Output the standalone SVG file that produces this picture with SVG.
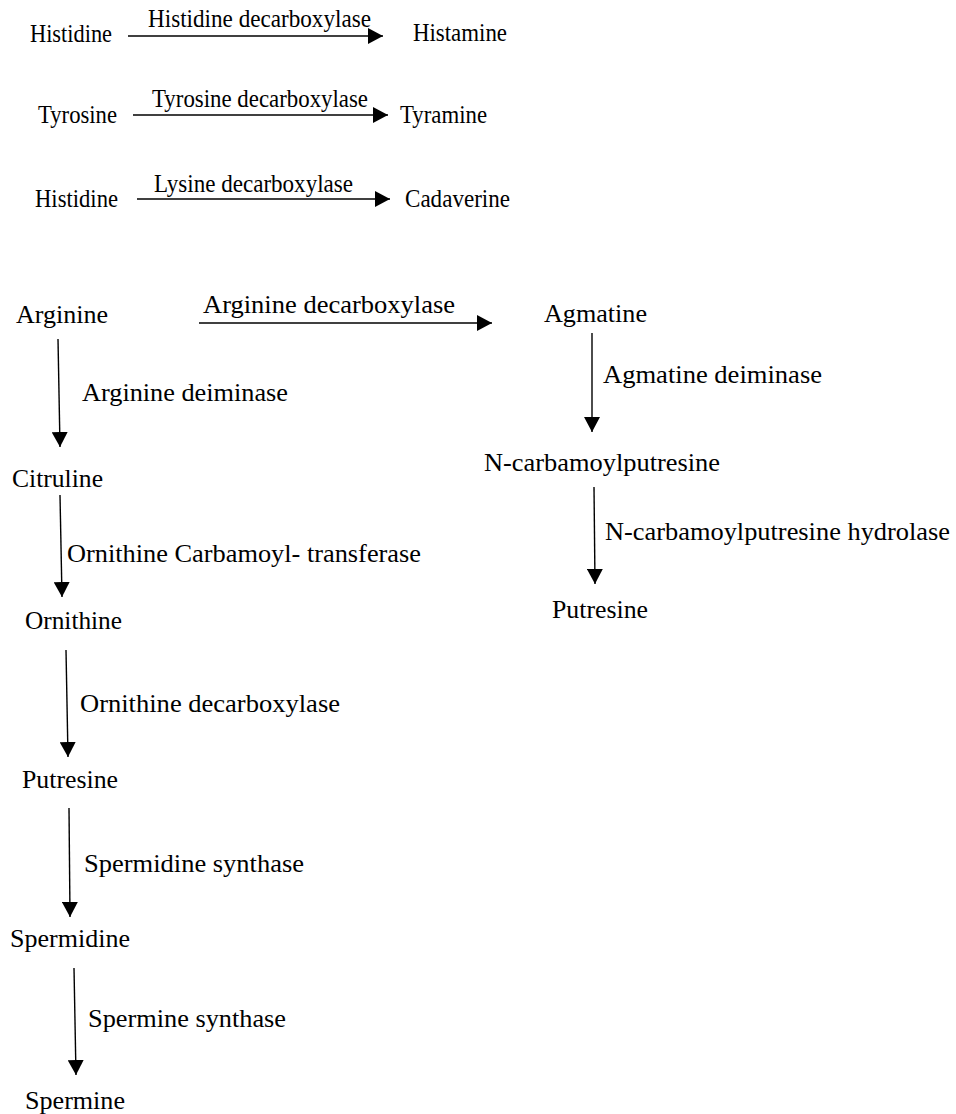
<svg xmlns="http://www.w3.org/2000/svg" width="956" height="1114" viewBox="0 0 956 1114" font-family="'Liberation Serif', 'Times New Roman', Times, 'DejaVu Serif', serif">
<defs>
<style>
text{font-family:'Liberation Serif','Times New Roman',Times,'DejaVu Serif',serif;fill:#000}
.t{font-size:25px}
.b{font-size:26px}
.c line{stroke:#000;stroke-width:1.4;marker-end:url(#ah)}
</style>
<marker id="ah" markerUnits="userSpaceOnUse" markerWidth="15" markerHeight="16" refX="15" refY="8" orient="auto">
<path d="M0,0 L15,8 L0,16 Z" fill="#000"/>
</marker>
</defs>
<rect width="956" height="1114" fill="#fff"/>
<g id="connectors" class="c">
<line x1="128" y1="36" x2="383" y2="36"/>
<line x1="133" y1="115" x2="388" y2="115"/>
<line x1="137" y1="199" x2="390" y2="199"/>
<line x1="199" y1="323" x2="492" y2="323"/>
<line x1="58" y1="339" x2="60" y2="447"/>
<line x1="60" y1="495" x2="62" y2="597"/>
<line x1="66" y1="650" x2="68" y2="757"/>
<line x1="69" y1="808" x2="70" y2="917"/>
<line x1="74" y1="968" x2="76" y2="1075"/>
<line x1="592" y1="333" x2="592" y2="432"/>
<line x1="594" y1="487" x2="595" y2="584"/>
</g>
<g id="labels">
<text class="t" x="148" y="27" textLength="223" lengthAdjust="spacingAndGlyphs">Histidine decarboxylase</text>
<text class="t" x="152" y="107" textLength="216" lengthAdjust="spacingAndGlyphs">Tyrosine decarboxylase</text>
<text class="t" x="154" y="192" textLength="199" lengthAdjust="spacingAndGlyphs">Lysine decarboxylase</text>
<text class="b" x="203" y="313" textLength="252" lengthAdjust="spacingAndGlyphs">Arginine decarboxylase</text>
<text class="b" x="82" y="401" textLength="206" lengthAdjust="spacingAndGlyphs">Arginine deiminase</text>
<text class="b" x="603" y="383" textLength="219" lengthAdjust="spacingAndGlyphs">Agmatine deiminase</text>
<text class="b" x="67" y="562" textLength="354" lengthAdjust="spacingAndGlyphs">Ornithine Carbamoyl- transferase</text>
<text class="b" x="605" y="540" textLength="345" lengthAdjust="spacingAndGlyphs">N-carbamoylputresine hydrolase</text>
<text class="b" x="80" y="712" textLength="260" lengthAdjust="spacingAndGlyphs">Ornithine decarboxylase</text>
<text class="b" x="84" y="872" textLength="220" lengthAdjust="spacingAndGlyphs">Spermidine synthase</text>
<text class="b" x="88" y="1027" textLength="198" lengthAdjust="spacingAndGlyphs">Spermine synthase</text>
</g>
<g id="histidine1"><text class="t" x="30" y="42" textLength="82" lengthAdjust="spacingAndGlyphs">Histidine</text></g>
<g id="histamine"><text class="t" x="413" y="41" textLength="94" lengthAdjust="spacingAndGlyphs">Histamine</text></g>
<g id="tyrosine"><text class="t" x="38" y="123" textLength="79" lengthAdjust="spacingAndGlyphs">Tyrosine</text></g>
<g id="tyramine"><text class="t" x="400" y="123" textLength="87" lengthAdjust="spacingAndGlyphs">Tyramine</text></g>
<g id="histidine2"><text class="t" x="35" y="207" textLength="83" lengthAdjust="spacingAndGlyphs">Histidine</text></g>
<g id="cadaverine"><text class="t" x="405" y="207" textLength="105" lengthAdjust="spacingAndGlyphs">Cadaverine</text></g>
<g id="arginine"><text class="b" x="16" y="323" textLength="92" lengthAdjust="spacingAndGlyphs">Arginine</text></g>
<g id="agmatine"><text class="b" x="544" y="322" textLength="103" lengthAdjust="spacingAndGlyphs">Agmatine</text></g>
<g id="citruline"><text class="b" x="12" y="487" textLength="91" lengthAdjust="spacingAndGlyphs">Citruline</text></g>
<g id="ncarbamoylputresine"><text class="b" x="484" y="471" textLength="236" lengthAdjust="spacingAndGlyphs">N-carbamoylputresine</text></g>
<g id="putresine-right"><text class="b" x="552" y="618" textLength="96" lengthAdjust="spacingAndGlyphs">Putresine</text></g>
<g id="ornithine"><text class="b" x="25" y="629" textLength="97" lengthAdjust="spacingAndGlyphs">Ornithine</text></g>
<g id="putresine"><text class="b" x="22" y="788" textLength="96" lengthAdjust="spacingAndGlyphs">Putresine</text></g>
<g id="spermidine"><text class="b" x="10" y="947" textLength="120" lengthAdjust="spacingAndGlyphs">Spermidine</text></g>
<g id="spermine"><text class="b" x="25" y="1109" textLength="100" lengthAdjust="spacingAndGlyphs">Spermine</text></g>
</svg>
